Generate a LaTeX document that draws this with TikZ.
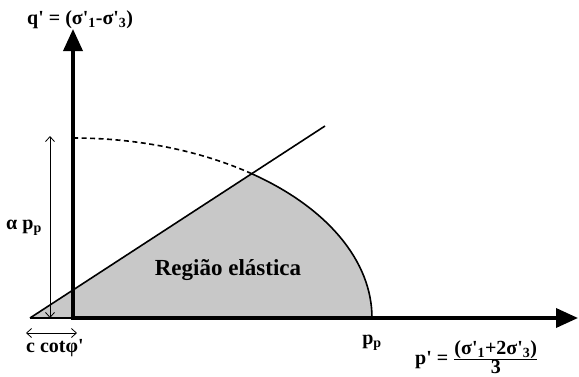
\documentclass[tikz,border=0pt]{standalone}
\usepackage{fontspec}
\setmainfont{Liberation Serif}[Ligatures=TeXOff]
\usetikzlibrary{arrows.meta,calc}
\definecolor{regiongray}{RGB}{200,200,200}
\begin{document}
\begin{tikzpicture}[x=1pt,y=1pt,
  axis/.style={line width=3.6pt,-{Triangle[length=22pt,width=19pt]}},
  env/.style={line width=1.6pt},
  dim/.style={line width=0.8pt},
  lbl/.style={inner sep=0pt,font=\bfseries\fontsize{20}{22}\selectfont}]
\useasboundingbox (0,0) rectangle (579,376);
\coordinate (O) at (73,58);
\coordinate (A) at (30,58);
\coordinate (P) at ($(O)+(53.3:299 and 180)$);
\coordinate (Pp) at (372,58);
\coordinate (Ltop) at (325,250);
\coordinate (Qtop) at (73,347);
\coordinate (Xend) at (578,58);
% shaded elastic region
\fill[regiongray] (A) -- (P) arc[start angle=53.3,end angle=0,x radius=299,y radius=180] -- cycle;
\draw[env] (P) arc[start angle=53.3,end angle=0,x radius=299,y radius=180];
\draw[env,dash pattern=on 5pt off 3.5pt] (P) arc[start angle=53.3,end angle=90,x radius=299,y radius=180];
\draw[env] (A) -- (Ltop);
\draw[env] (A) -- (O);
% axes
\draw[axis] (O) -- (Qtop);
\draw[axis] ([xshift=-1.8pt]O) -- (Xend);
% dimension alpha p_p
\coordinate (Da) at (50,58);
\coordinate (Db) at (50,240);
\draw[dim,{Straight Barb[length=5pt,width=9pt]}-{Straight Barb[length=5pt,width=9pt]}] (Da) -- (Db);
% dimension c cot phi
\coordinate (Ca) at (26,43);
\coordinate (Cb) at (77,43);
\draw[dim,{Straight Barb[length=5pt,width=9pt]}-{Straight Barb[length=5pt,width=9pt]}] (Ca) -- (Cb);
% labels
\node[lbl,anchor=west] (qlab) at (27,356) {q' = (σ'\textsubscript{1}-σ'\textsubscript{3})};
\node[lbl,anchor=east] (alab) at (42,148) {α p\textsubscript{p}};
\node[lbl,anchor=west] (clab) at (26,28) {c cotφ'};
\node[lbl] (pplab) at (372,33) {p\textsubscript{p}};
\node[lbl,anchor=west] (plab) at (415,19) {p' = $\frac{\mbox{(σ'\textsubscript{1}+2σ'\textsubscript{3})}}{\mbox{3}}$};
\node[inner sep=0pt,font=\bfseries\fontsize{23}{26}\selectfont] (reg) at (228,106) {Região elástica};
\end{tikzpicture}
\end{document}
